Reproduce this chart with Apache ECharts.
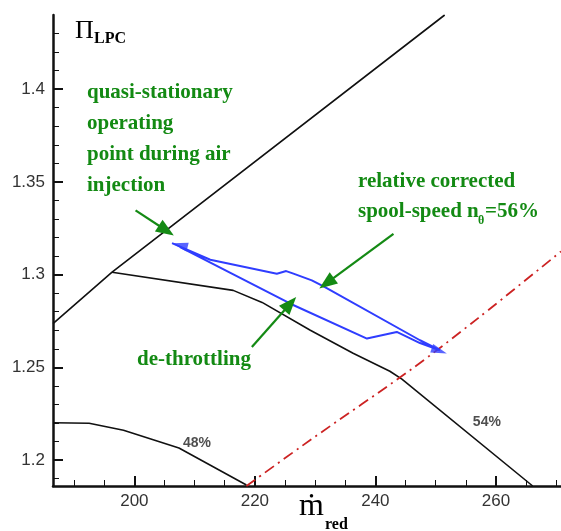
<!DOCTYPE html>
<html><head><meta charset="utf-8">
<script src="https://cdn.jsdelivr.net/npm/echarts@6/dist/echarts.min.js"></script>
<style>html,body{margin:0;padding:0;background:#fff}#c{width:561px;height:531px}</style>
</head><body><div id="c"></div>
<script>
// ---- data ----
const xTicks = [200, 220, 240, 260];
const xMinorTicks = [190, 195, 205, 210, 215, 225, 230, 235, 245, 250, 255, 265, 270];
const yTicks = [1.2, 1.25, 1.3, 1.35, 1.4];
const yMinorTicks = [1.19, 1.21, 1.22, 1.23, 1.24, 1.26, 1.27, 1.28, 1.29, 1.31, 1.32, 1.33, 1.34, 1.36, 1.37, 1.38, 1.39, 1.41, 1.42, 1.43];

const surgeX = [186.5, 196.3, 251.5];
const surgeY = [1.2736, 1.3013, 1.44];

const speed56X = [196.3, 216.4, 221.2, 229.2, 236.3, 242.4, 244.4, 266.1];
const speed56Y = [1.3013, 1.2915, 1.2850, 1.2700, 1.2576, 1.2479, 1.2436, 1.186];

const speed48X = [186.5, 192.5, 198.2, 207.4, 218.6];
const speed48Y = [1.2201, 1.2198, 1.2161, 1.2065, 1.1865];

const throttleX = [218.6, 229.2, 246.2, 257.0, 270.8];
const throttleY = [1.186, 1.2108, 1.2495, 1.2764, 1.3125];

// trajectory: upper path left->right, then lower path right->left
const trajX = [206.25, 212.6, 223.65, 225.2, 226.4, 229.45, 231.4, 247.4, 250.7, 250.7, 247.4, 243.55, 238.6, 225.9, 207.6];
const trajY = [1.3170, 1.3080, 1.3005, 1.3019, 1.3005, 1.2969, 1.2936, 1.2646, 1.2592, 1.2583, 1.2631, 1.2691, 1.2655, 1.2843, 1.3148];

const trajHeadX = [207.55, 250.6];
const trajHeadY = [1.3159, 1.2589];
const trajHeadRot = [76, -109];

const arrowFromX = [200.2, 243.0, 219.5];
const arrowFromY = [1.3346, 1.3220, 1.2610];
const arrowToX = [205.3, 231.9, 225.86];
const arrowToY = [1.3238, 1.2954, 1.2843];

const speedLabels = ['48%', '54%'];
const speedLabelX = [210.4, 258.5];
const speedLabelY = [1.209, 1.2205];

// ---- chart ----
const zip = (xs, ys) => xs.map((x, i) => [x, ys[i]]);
const chart = echarts.init(document.getElementById('c'), null, {renderer: 'canvas'});
const axisCol = '#111';
const green = '#138a13';
const serif = '"Liberation Serif","Times New Roman",serif';

const option = {
  animation: false,
  backgroundColor: '#fff',
  grid: {left: 53, top: 15, right: 0, bottom: 45},
  xAxis: [
    {type: 'value', min: 186.5, max: 270.8, position: 'bottom',
     axisLine: {show: true, onZero: false, lineStyle: {color: axisCol, width: 2.5}},
     axisTick: {show: true, inside: true, length: 10, customValues: xTicks, lineStyle: {color: axisCol, width: 2}},
     axisLabel: {customValues: xTicks, fontSize: 17, color: '#333', margin: 7, fontFamily: '"Liberation Sans",Arial,sans-serif'},
     splitLine: {show: false}},
    {type: 'value', min: 186.5, max: 270.8, position: 'bottom',
     axisLine: {show: false},
     axisTick: {show: true, inside: true, length: 6, customValues: xMinorTicks, lineStyle: {color: axisCol, width: 1}},
     axisLabel: {show: false}, splitLine: {show: false}}
  ],
  yAxis: [
    {type: 'value', min: 1.186, max: 1.44, position: 'left',
     axisLine: {show: true, onZero: false, lineStyle: {color: axisCol, width: 2.5}},
     axisTick: {show: true, inside: true, length: 10, customValues: yTicks, lineStyle: {color: axisCol, width: 2}},
     axisLabel: {customValues: yTicks, fontSize: 17, color: '#333', margin: 8, fontFamily: '"Liberation Sans",Arial,sans-serif',
                 formatter: v => String(+v.toFixed(2))},
     splitLine: {show: false}},
    {type: 'value', min: 1.186, max: 1.44, position: 'left',
     axisLine: {show: false},
     axisTick: {show: true, inside: true, length: 6, customValues: yMinorTicks, lineStyle: {color: axisCol, width: 1}},
     axisLabel: {show: false}, splitLine: {show: false}}
  ],
  series: [
    {type: 'line', data: zip(surgeX, surgeY), symbol: 'none', lineStyle: {color: '#111', width: 1.6}, z: 3},
    {type: 'line', data: zip(speed56X, speed56Y), symbol: 'none', lineStyle: {color: '#111', width: 1.6}, z: 3},
    {type: 'line', data: zip(speed48X, speed48Y), symbol: 'none', lineStyle: {color: '#111', width: 1.6}, z: 3},
    {type: 'line', data: zip(throttleX, throttleY), symbol: 'none', smooth: 0.3,
     lineStyle: {color: '#cc2222', width: 1.8, type: [11, 5, 2, 5]}, z: 3},
    {type: 'line', data: zip(trajX, trajY), symbol: 'none', lineStyle: {color: '#2f3dff', width: 2}, z: 4},
    {type: 'scatter', data: trajHeadX.map((x, i) => ({value: [x, trajHeadY[i]], symbolRotate: trajHeadRot[i]})),
     symbol: 'triangle', symbolSize: [9, 16], itemStyle: {color: '#2f3dff'}, z: 5},
    {type: 'scatter', data: speedLabelX.map((x, i) => ({value: [x, speedLabelY[i]], name: speedLabels[i]})),
     symbolSize: 0, z: 5,
     label: {show: true, position: 'inside', formatter: p => p.name, fontSize: 14, fontWeight: 'bold', color: '#222',
             fontFamily: '"Liberation Sans",Arial,sans-serif'}},
    {type: 'line', data: [], symbol: 'none', z: 6,
     markLine: {silent: true, symbol: ['none', 'triangle'], symbolSize: [14, 18], label: {show: false},
       lineStyle: {color: '#148a14', width: 2.2, type: 'solid'},
       data: arrowFromX.map((x, i) => [{coord: [x, arrowFromY[i]]}, {coord: [arrowToX[i], arrowToY[i]]}])}}
  ],
  graphic: [
    {type: 'text', left: 75, top: 18, style: {text: 'Π', font: '26px ' + serif, fill: '#000'}},
    {type: 'text', left: 94, top: 31, style: {text: 'LPC', font: 'bold 16px ' + serif, fill: '#000'}},
    {type: 'text', left: 299, top: 491, style: {text: 'ṁ', font: '32px ' + serif, fill: '#000'}},
    {type: 'text', left: 325, top: 517, style: {text: 'red', font: 'bold 16px ' + serif, fill: '#000'}},
    {type: 'text', left: 87, top: 77, style: {text: 'quasi-stationary\noperating\npoint during air\ninjection', font: 'bold 21px ' + serif, fill: green, lineHeight: 31}},
    {type: 'text', left: 358, top: 171, style: {text: 'relative corrected', font: 'bold 21px ' + serif, fill: green}},
    {type: 'text', left: 358, top: 201, style: {text: 'spool-speed n', font: 'bold 21px ' + serif, fill: green}},
    {type: 'text', left: 478, top: 215, style: {text: '\u03B8', font: 'bold 12px ' + serif, fill: green}},
    {type: 'text', left: 485, top: 201, style: {text: '=56%', font: 'bold 21px ' + serif, fill: green}},
    {type: 'text', left: 137, top: 349, style: {text: 'de-throttling', font: 'bold 21px ' + serif, fill: green}}
  ]
};
chart.setOption(option);
</script></body></html>
